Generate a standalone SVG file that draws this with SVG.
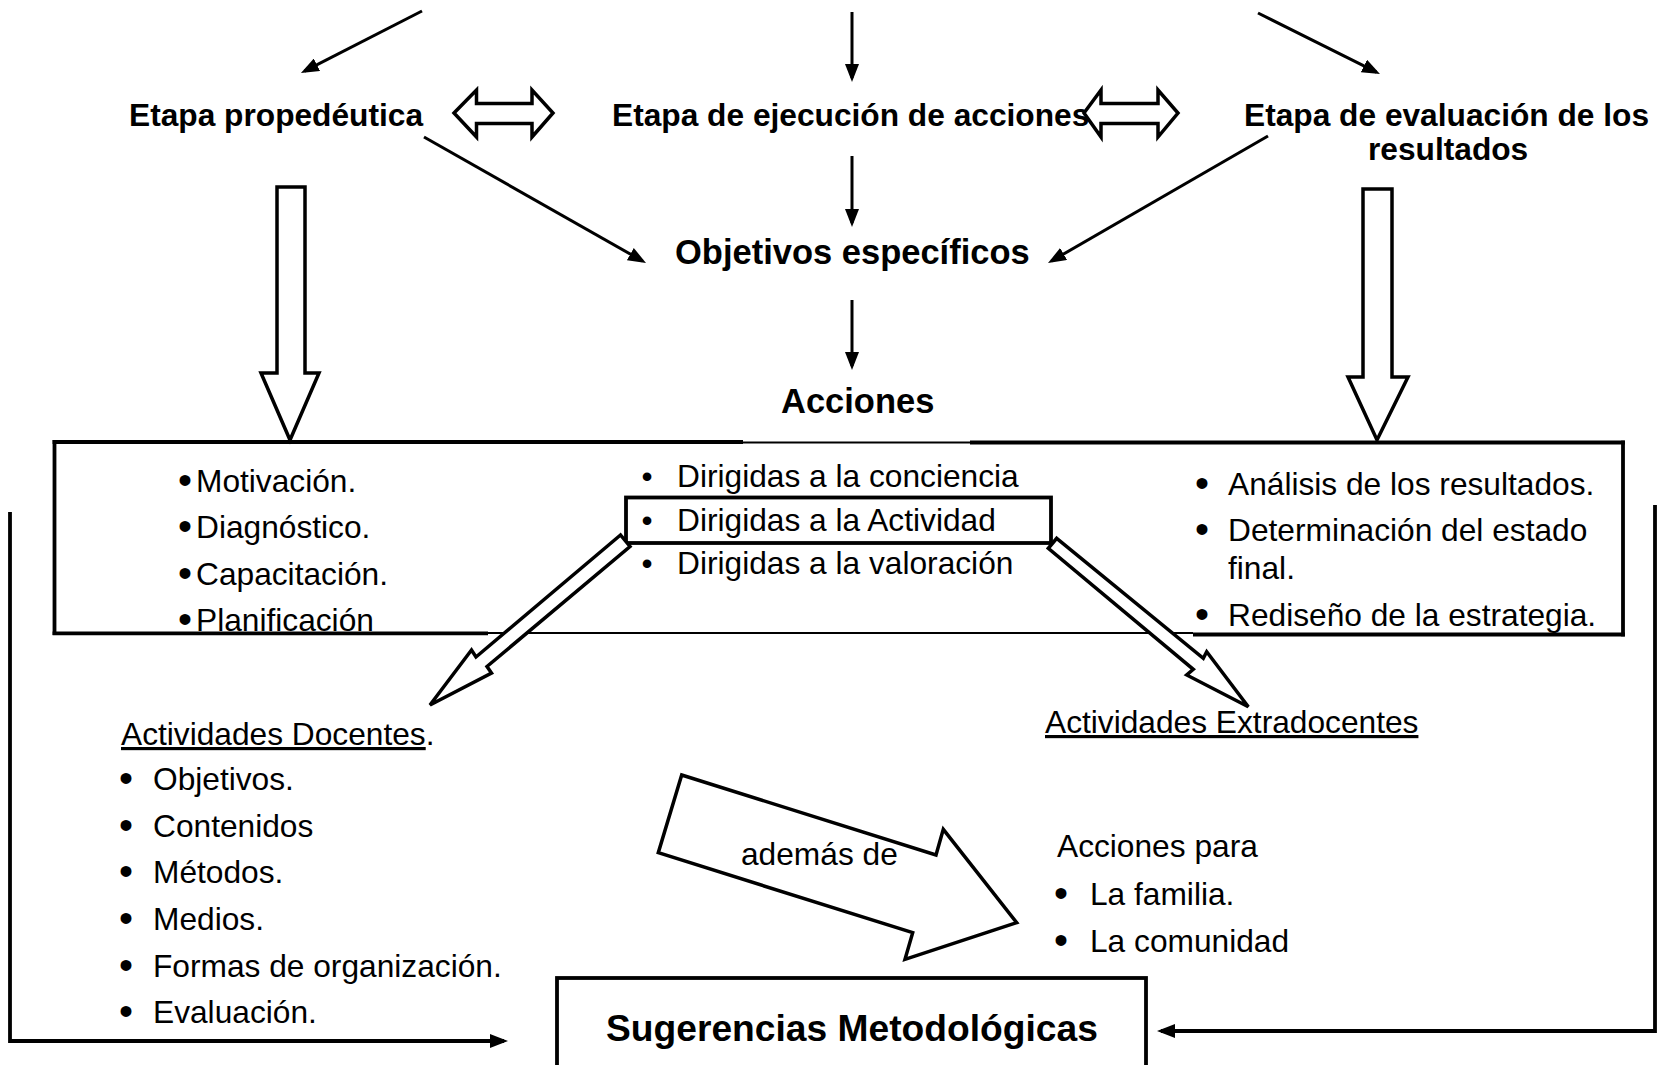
<svg xmlns="http://www.w3.org/2000/svg" width="1663" height="1065" viewBox="0 0 1663 1065">
<style>
.t{font-family:"Liberation Sans",Arial,sans-serif;font-size:31.7px;fill:#000}
.b{font-weight:bold}
.bu{font-family:"Liberation Sans",Arial,sans-serif;font-size:40px;fill:#000;text-anchor:middle}
.bs{font-family:"Liberation Sans",Arial,sans-serif;font-size:31.7px;fill:#000;text-anchor:middle}
.ln{stroke:#000;stroke-width:3;fill:none}
.thick{stroke:#000;stroke-width:3.8;fill:none}
.thin{stroke:#000;stroke-width:2;fill:none}
.hol{fill:#fff;stroke:#000;stroke-width:3.5;stroke-linejoin:miter}
</style>
<defs>
<marker id="ah" markerUnits="userSpaceOnUse" markerWidth="18" markerHeight="14" refX="14" refY="7" orient="auto">
<path d="M0,0 L18,7 L0,14 z" fill="#000"/>
</marker>
</defs>
<rect width="1663" height="1065" fill="#fff"/>

<g id="node-etapa-propedeutica"><text class="t b" x="129" y="126">Etapa propedéutica</text></g>
<g id="node-etapa-ejecucion"><text class="t b" x="612" y="126">Etapa de ejecución de acciones</text></g>
<g id="node-etapa-evaluacion"><text class="t b" x="1244" y="126">Etapa de evaluación de los</text><text class="t b" x="1368" y="160">resultados</text></g>
<g id="node-objetivos"><text class="t b" x="675" y="263.5" style="font-size:34.5px">Objetivos específicos</text></g>
<g id="node-acciones"><text class="t b" x="781" y="413" style="font-size:34.5px">Acciones</text></g>

<g id="node-acciones-box">
<line class="thick" x1="54.5" y1="440" x2="54.5" y2="635"/>
<line class="thick" x1="52.6" y1="442" x2="743" y2="442"/>
<line class="thin" x1="743" y1="442.5" x2="970" y2="442.5"/>
<line class="thick" x1="970" y1="442.5" x2="1624.9" y2="442.5"/>
<line class="thick" x1="1623" y1="440.6" x2="1623" y2="636.4"/>
<line class="thick" x1="52.6" y1="633.3" x2="488" y2="633.3"/>
<line class="thin" x1="488" y1="633" x2="1193" y2="633"/>
<line class="thick" x1="1193" y1="634.5" x2="1624.9" y2="634.5"/>
</g>

<g id="node-lista-propedeutica">
<text class="bu" x="185" y="494">•</text><text class="t" x="196" y="492">Motivación.</text>
<text class="bu" x="185" y="540">•</text><text class="t" x="196" y="538">Diagnóstico.</text>
<text class="bu" x="185" y="587">•</text><text class="t" x="196" y="585">Capacitación.</text>
<text class="bu" x="185" y="633">•</text><text class="t" x="196" y="631">Planificación</text>
</g>

<g id="node-lista-acciones">
<text class="bs" x="647" y="487">•</text><text class="t" x="677" y="487">Dirigidas a la conciencia</text>
<text class="bs" x="647" y="531">•</text><text class="t" x="677" y="531">Dirigidas a la Actividad</text>
<text class="bs" x="647" y="574">•</text><text class="t" x="677" y="574">Dirigidas a la valoración</text>
<rect x="626" y="497.5" width="425" height="45.5" class="thick"/>
</g>

<g id="node-lista-evaluacion">
<text class="bu" x="1202" y="497">•</text><text class="t" x="1228" y="495">Análisis de los resultados.</text>
<text class="bu" x="1202" y="543">•</text><text class="t" x="1228" y="541">Determinación del estado</text>
<text class="t" x="1228" y="579">final.</text>
<text class="bu" x="1202" y="628">•</text><text class="t" x="1228" y="626">Rediseño de la estrategia.</text>
</g>

<g id="node-actividades-docentes">
<text class="t" x="121" y="745"><tspan text-decoration="underline">Actividades Docentes</tspan>.</text>
<text class="bu" x="126" y="792">•</text><text class="t" x="153" y="790">Objetivos.</text>
<text class="bu" x="126" y="839">•</text><text class="t" x="153" y="837">Contenidos</text>
<text class="bu" x="126" y="885">•</text><text class="t" x="153" y="883">Métodos.</text>
<text class="bu" x="126" y="932">•</text><text class="t" x="153" y="930">Medios.</text>
<text class="bu" x="126" y="979">•</text><text class="t" x="153" y="977">Formas de organización.</text>
<text class="bu" x="126" y="1025">•</text><text class="t" x="153" y="1023">Evaluación.</text>
</g>

<g id="node-actividades-extradocentes">
<text class="t" x="1045" y="733" text-decoration="underline">Actividades Extradocentes</text>
</g>

<g id="node-acciones-para">
<text class="t" x="1057" y="857">Acciones para</text>
<text class="bu" x="1061" y="907">•</text><text class="t" x="1090" y="905">La familia.</text>
<text class="bu" x="1061" y="954">•</text><text class="t" x="1090" y="952">La comunidad</text>
</g>

<g id="node-sugerencias">
<rect x="557" y="978" width="589" height="110" class="thick" fill="#fff"/>
<text class="t b" x="606" y="1041" style="font-size:37.2px">Sugerencias Metodológicas</text>
</g>

<g id="connectors">
<line class="ln" x1="422" y1="11" x2="304.5" y2="71.2" marker-end="url(#ah)"/>
<line class="ln" x1="852" y1="12" x2="852" y2="78" marker-end="url(#ah)"/>
<line class="ln" x1="1258" y1="13" x2="1376.4" y2="72.2" marker-end="url(#ah)"/>
<line class="ln" x1="424" y1="137" x2="642.5" y2="261" marker-end="url(#ah)"/>
<line class="ln" x1="1268" y1="136" x2="1051.5" y2="261" marker-end="url(#ah)"/>
<line class="ln" x1="852" y1="156" x2="852" y2="223" marker-end="url(#ah)"/>
<line class="ln" x1="852" y1="300" x2="852" y2="366" marker-end="url(#ah)"/>
<polyline class="thick" points="10,512 10,1041 504,1041" marker-end="url(#ah)"/>
<polyline class="thick" points="1655,505 1655,1031 1161,1031" marker-end="url(#ah)"/>
<polygon class="hol" points="454,113 476.5,90 476.5,103.5 532,103.5 532,90 553,113 532,137 532,123.5 476.5,123.5 476.5,137"/>
<polygon class="hol" points="1084,113 1101,90 1101,103.5 1158,103.5 1158,90 1178,113 1158,137 1158,123.5 1101,123.5 1101,137"/>
<polygon class="hol" points="277,187 305,187 305,373 319,373 290,440 261,373 277,373"/>
<polygon class="hol" points="1363,189 1392,189 1392,377 1408,377 1377,440 1348,377 1363,377"/>
<polygon class="hol" points="620.5,535 476,657 471.5,650 430,705 491.5,673 487,666.5 630,546.5"/>
<polygon class="hol" points="1056.7,538.3 1203.3,658.3 1206.7,651.7 1248.3,706.7 1186.7,675 1193.3,669.3 1048.3,548.3"/>
<polygon class="hol" points="681.7,775 936,855 943.3,829.3 1016.7,922.7 905,959.3 912.7,932.7 658.3,852.7"/>
</g>
<g id="node-ademas"><text class="t" x="741" y="865">además de</text></g>
</svg>
